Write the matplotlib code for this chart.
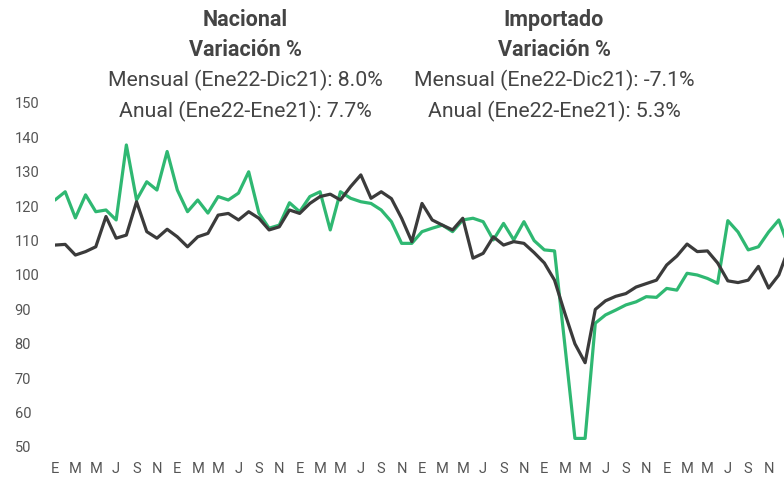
import numpy as np
import matplotlib
matplotlib.use("Agg")
import matplotlib.pyplot as plt

plt.rcParams['font.family'] = ['Roboto', 'DejaVu Sans']

# months Jan 2016 .. Jan 2022, labels every two months
month_letters = ["E", "F", "M", "A", "M", "J", "J", "A", "S", "O", "N", "D"]

nacional = [108.7, 108.9, 105.8, 106.8, 108.2, 117.0, 110.7, 111.6, 121.3, 112.6, 110.7, 113.3,
            111.1, 108.2, 111.1, 112.1, 117.4, 117.9, 116.0, 118.4, 116.5, 113.1, 114.0, 118.9,
            117.9, 120.8, 122.8, 123.5, 121.8, 125.7, 129.1, 122.3, 124.2, 122.2, 116.5, 109.7,
            120.8, 116.0, 114.5, 113.1, 116.5, 104.9, 106.3, 111.1, 108.7, 109.7, 109.2, 106.5,
            103.5, 98.5, 89.0, 80.0, 74.5, 90.0, 92.5, 93.8, 94.6, 96.5, 97.5, 98.5,
            102.9, 105.5, 109.0, 106.8, 107.0, 103.5, 98.3, 97.8, 98.5, 102.5, 96.2, 100.0,
            108.0]

importado = [121.8, 124.2, 116.6, 123.3, 118.4, 118.9, 116.0, 137.8, 121.8, 127.1, 124.7, 135.9,
             124.7, 118.4, 121.8, 118.0, 122.8, 121.8, 123.8, 130.0, 118.0, 113.6, 114.5, 121.0,
             118.4, 122.8, 124.2, 113.1, 124.2, 122.3, 121.3, 120.8, 118.9, 115.5, 109.2, 109.2,
             112.6, 113.6, 114.5, 112.6, 116.0, 116.5, 115.5, 110.2, 115.0, 110.2, 115.5, 110.0,
             107.3, 107.0, 80.0, 52.5, 52.5, 86.0, 88.4, 89.8, 91.3, 92.2, 93.7, 93.5,
             96.1, 95.6, 100.5, 100.0, 99.0, 97.6, 115.8, 112.5, 107.3, 108.2, 112.5, 116.0,
             107.8]

y_ticks = [50, 60, 70, 80, 90, 100, 110, 120, 130, 140, 150]

titles = [
    ("Nacional", "Variación %", "Mensual (Ene22-Dic21): 8.0%", "Anual (Ene22-Ene21): 7.7%"),
    ("Importado", "Variación %", "Mensual (Ene22-Dic21): -7.1%", "Anual (Ene22-Ene21): 5.3%"),
]

x = np.arange(len(nacional))

W, H = 784, 478
fig = plt.figure(figsize=(W / 100, H / 100), dpi=100)
# axes runs a little past the right edge, like the cropped original
left_px, right_px = 55, 789
top_px, bottom_px = 95, 455
ax = fig.add_axes([left_px / W, 1 - bottom_px / H, (right_px - left_px) / W, (bottom_px - top_px) / H])

ax.plot(x, importado, color="#2fb872", lw=2.3, solid_joinstyle="round", solid_capstyle="round")
ax.plot(x, nacional, color="#3b3b3b", lw=2.3, solid_joinstyle="round", solid_capstyle="round")

ax.set_xlim(0, len(x) - 1)
ax.set_ylim(50 - 8 / 3.44, 150 + 8 / 3.44)

ax.set_yticks(y_ticks)
ax.set_yticklabels([str(v) for v in y_ticks])
for lab in ax.get_yticklabels():
    lab.set_horizontalalignment("left")
ax.tick_params(axis="y", length=0, pad=29, labelsize=10.5, labelcolor="#555555")

ticks = x[::2]
ax.set_xticks(ticks)
ax.set_xticklabels([month_letters[i % 12] for i in ticks])
ax.tick_params(axis="x", length=0, pad=5, labelsize=10.5, labelcolor="#555555")

for s in ax.spines.values():
    s.set_visible(False)

# header texts
for cx, lines in zip([245, 554], titles):
    ys = [20, 50, 80, 111]
    for k, (txt, yy) in enumerate(zip(lines, ys)):
        fig.text(cx / W, 1 - yy / H, txt, ha="center", va="center",
                 fontsize=15.5 if k < 2 else 15.3,
                 color="#444444", fontweight="bold" if k < 2 else "normal")

fig.savefig("out.png", dpi=100)
